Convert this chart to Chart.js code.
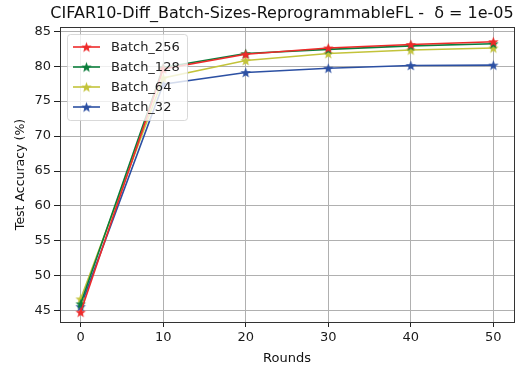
<!DOCTYPE html>
<html>
<head>
<meta charset="utf-8">
<script src="https://cdn.jsdelivr.net/npm/chart.js@4/dist/chart.umd.min.js"></script>
<style>
  html, body { margin: 0; padding: 0; background: #fff; }
  #wrap { width: 528px; height: 366px; }
</style>
</head>
<body>
<div id="wrap"><canvas id="line-chart0" width="528" height="366"></canvas></div>
<script>
var rounds = [0, 10, 20, 30, 40, 50];
var batch256 = [44.8, 79.6, 81.7, 82.6, 83.1, 83.5];
var batch128 = [46.0, 79.8, 81.8, 82.4, 82.9, 83.2];
var batch64 = [46.7, 78.3, 80.8, 81.8, 82.3, 82.6];
var batch32 = [45.6, 77.4, 79.1, 79.7, 80.1, 80.15];
var xTicks = [0, 10, 20, 30, 40, 50];
var yTicks = [45, 50, 55, 60, 65, 70, 75, 80, 85];
var titleText = 'CIFAR10-Diff_Batch-Sizes-ReprogrammableFL -  δ = 1e-05';

var font = "'DejaVu Sans', sans-serif";

// filled five point star, like matplotlib's '*' marker
function starMarker(color, r) {
    var c = document.createElement('canvas');
    var s = Math.ceil(r * 2 + 2);
    c.width = s; c.height = s;
    var ctx = c.getContext('2d');
    ctx.beginPath();
    for (var i = 0; i < 10; i++) {
        var rad = i % 2 === 0 ? r : r * 0.42;
        var a = -Math.PI / 2 + i * Math.PI / 5;
        var px = s / 2 + rad * Math.cos(a);
        var py = s / 2 + rad * Math.sin(a) + 0.5;
        if (i === 0) ctx.moveTo(px, py); else ctx.lineTo(px, py);
    }
    ctx.closePath();
    ctx.fillStyle = color;
    ctx.fill();
    return c;
}

function series(label, values, color) {
    return {
        label: label,
        data: rounds.map(function (r, i) { return { x: r, y: values[i] }; }),
        borderColor: color,
        backgroundColor: color,
        borderWidth: 1.6,
        pointStyle: starMarker(color, 5.5),
        pointRadius: 5,
        tension: 0
    };
}

var datasets = [
    series('Batch_256', batch256, '#ee2a2a'),
    series('Batch_128', batch128, '#0b7d3b'),
    series('Batch_64', batch64, '#c3c33a'),
    series('Batch_32', batch32, '#2c50a3')
];

// title over the plot, frame around it, boxed legend upper left
var frameAndLegend = {
    id: 'frameAndLegend',
    afterDatasetsDraw: function (chart) {
        var ctx = chart.ctx, a = chart.chartArea;
        ctx.save();
        ctx.strokeStyle = '#333';
        ctx.lineWidth = 1;
        ctx.strokeRect(Math.round(a.left) + 0.5, Math.round(a.top) + 0.5,
            Math.round(a.right - a.left), Math.round(a.bottom - a.top));

        ctx.fillStyle = '#111';
        ctx.font = '16px ' + font;
        ctx.textAlign = 'center';
        ctx.textBaseline = 'middle';
        ctx.fillText(titleText, (a.left + a.right) / 2 - 5, 14);
        ctx.textAlign = 'left';

        var bx = a.left + 7, by = a.top + 7, bw = 120, bh = 86, row = 20;
        ctx.globalAlpha = 0.8;
        ctx.fillStyle = '#fff';
        ctx.strokeStyle = '#d0d0d0';
        ctx.beginPath();
        ctx.roundRect(bx + 0.5, by + 0.5, bw, bh, 3);
        ctx.fill();
        ctx.stroke();
        ctx.globalAlpha = 1;
        ctx.font = '13px ' + font;
        chart.data.datasets.forEach(function (ds, i) {
            var y = by + 13 + i * row;
            ctx.strokeStyle = ds.borderColor;
            ctx.lineWidth = 1.6;
            ctx.beginPath();
            ctx.moveTo(bx + 6, y);
            ctx.lineTo(bx + 33, y);
            ctx.stroke();
            var m = ds.pointStyle;
            ctx.drawImage(m, bx + 19.5 - m.width / 2, y - m.height / 2);
            ctx.fillStyle = '#222';
            ctx.fillText(ds.label, bx + 44, y + 1);
        });
        ctx.restore();
    }
};

var lineChart = new Chart(document.getElementById('line-chart0'), {
    type: 'line',
    data: { datasets: datasets },
    plugins: [frameAndLegend],
    options: {
        responsive: false,
        animation: false,
        layout: { padding: { left: 0, right: 14, top: 27, bottom: 0 } },
        plugins: {
            legend: { display: false },
            tooltip: { enabled: false },
            title: { display: false }
        },
        scales: {
            x: {
                type: 'linear',
                min: -2.5,
                max: 52.5,
                afterBuildTicks: function (s) { s.ticks = xTicks.map(function (v) { return { value: v }; }); },
                afterFit: function (s) { s.height = 44; },
                ticks: { color: '#1a1a1a', font: { family: font, size: 13 }, padding: 3, maxRotation: 0 },
                grid: { color: '#b0b0b0', lineWidth: 1, tickColor: '#222', tickLength: 5 },
                border: { display: false },
                title: { display: true, text: 'Rounds', color: '#111', font: { family: font, size: 13 }, padding: { top: 1, bottom: 0 } }
            },
            y: {
                min: 43.4,
                max: 85.6,
                afterBuildTicks: function (s) { s.ticks = yTicks.map(function (v) { return { value: v }; }); },
                afterFit: function (s) { s.width = 60; },
                ticks: { color: '#1a1a1a', font: { family: font, size: 13 }, padding: 3 },
                grid: { color: '#b0b0b0', lineWidth: 1, tickColor: '#222', tickLength: 6 },
                border: { display: false },
                title: { display: true, text: 'Test Accuracy (%)', color: '#111', font: { family: font, size: 12.5 }, padding: { top: 13, bottom: 4 } }
            }
        }
    }
});
</script>
</body>
</html>
